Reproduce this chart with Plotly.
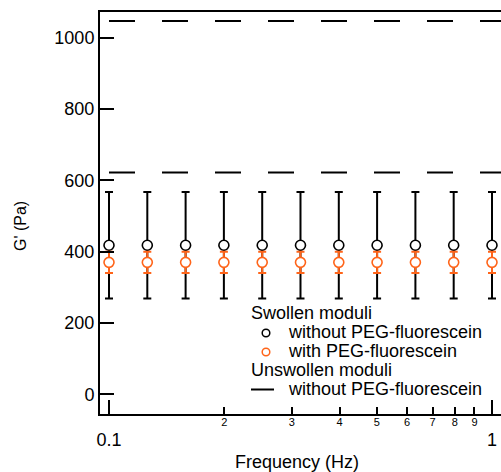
import plotly.graph_objects as go

# ---------------- data ----------------
freq = [0.1, 0.1259, 0.1585, 0.1995, 0.2512, 0.3162, 0.3981, 0.5012, 0.631, 0.7943, 1.0]
swollen_without = [418, 418, 418, 418, 418, 418, 418, 418, 418, 418, 418]
swollen_without_err = [149, 149, 149, 149, 149, 149, 149, 149, 149, 149, 149]
swollen_with = [370, 370, 370, 370, 370, 370, 370, 370, 370, 370, 370]
swollen_with_err = [30, 30, 30, 30, 30, 30, 30, 30, 30, 30, 30]
unswollen_freq = [0.1, 1.2]
unswollen_upper = [1047, 1047]
unswollen_lower = [622, 622]

y_ticks = [0, 200, 400, 600, 800, 1000]
x_major_ticks = [0.1, 1]
x_major_labels = ["0.1", "1"]
x_minor_ticks = [0.2, 0.3, 0.4, 0.5, 0.6, 0.7, 0.8, 0.9]
x_minor_labels = ["2", "3", "4", "5", "6", "7", "8", "9"]

# ---------------- layout constants ----------------
W, H = 501, 472
PLOT_L, PLOT_T, PLOT_B = 100, 12, 414          # pixel positions
L, T, B, R = PLOT_L, PLOT_T, H - PLOT_B, 0
PW, PH = W - L - R, H - T - B
FONT = "Liberation Sans, Arial, Helvetica, sans-serif"
ORANGE = "#FF6419"


def px(xp):
    return (xp - PLOT_L) / PW


def py(yp):
    return (PLOT_B - yp) / PH


fig = go.Figure()

# unswollen dashed lines
for yv in (unswollen_upper, unswollen_lower):
    fig.add_trace(go.Scatter(
        x=unswollen_freq, y=yv, mode="lines",
        line=dict(color="black", width=2, dash="26px,27px"),
        showlegend=False, hoverinfo="skip"))

# swollen without PEG
fig.add_trace(go.Scatter(
    x=freq, y=swollen_without, mode="markers",
    marker=dict(symbol="circle", size=10, color="white",
                line=dict(color="black", width=1.6)),
    error_y=dict(type="data", array=swollen_without_err, visible=True,
                 color="black", thickness=2, width=4),
    showlegend=False))

# swollen with PEG
fig.add_trace(go.Scatter(
    x=freq, y=swollen_with, mode="markers",
    marker=dict(symbol="circle", size=10, color="white",
                line=dict(color=ORANGE, width=1.6)),
    error_y=dict(type="data", array=swollen_with_err, visible=True,
                 color=ORANGE, thickness=2, width=4),
    showlegend=False))

xr = [-1 - 9 / 383, 9 / 383]

fig.update_layout(
    width=W, height=H,
    margin=dict(l=L, r=R, t=T, b=B, pad=0, autoexpand=False),
    paper_bgcolor="white", plot_bgcolor="white",
    font=dict(family=FONT, size=18, color="black"),
    showlegend=False,
    xaxis=dict(type="log", range=xr, tickmode="array",
               tickvals=x_major_ticks, ticktext=x_major_labels,
               ticks="inside", ticklen=14, tickwidth=2, tickcolor="black",
               showline=True, linewidth=2, linecolor="black", mirror=True,
               showgrid=False, zeroline=False, automargin=False,
               tickfont=dict(size=18), ticklabelstandoff=8),
    xaxis2=dict(type="log", range=xr, overlaying="x", anchor="y", side="bottom",
                tickmode="array", tickvals=x_minor_ticks, ticktext=x_minor_labels,
                ticks="inside", ticklen=7, tickwidth=2, tickcolor="black",
                showline=False, showgrid=False, zeroline=False, automargin=False,
                tickfont=dict(size=11)),
    yaxis=dict(range=[-55.2, 1072], tickmode="array", tickvals=y_ticks,
               ticks="inside", ticklen=14, tickwidth=2, tickcolor="black",
               showline=True, linewidth=2, linecolor="black", automargin=False,
               showgrid=False, zeroline=False, tickfont=dict(size=18)),
)

# dummy trace to activate xaxis2
fig.add_trace(go.Scatter(x=[0.1], y=[None], xaxis="x2", yaxis="y",
                         showlegend=False, hoverinfo="skip"))

annotations = []
# axis titles
annotations.append(dict(text="Frequency (Hz)", x=px(297), y=py(462), xref="paper", yref="paper",
                        xanchor="center", yanchor="middle", showarrow=False, font=dict(size=18)))
annotations.append(dict(text="G' (Pa)", x=px(20), y=py(226), xref="paper", yref="paper",
                        xanchor="center", yanchor="middle", textangle=-90, showarrow=False,
                        font=dict(size=16)))

# legend
rows = [313, 332, 351, 370, 388.5]
legend_text = [
    ("Swollen moduli", 249),
    ("without PEG-fluorescein", 286),
    ("with PEG-fluorescein", 286),
    ("Unswollen moduli", 249),
    ("without PEG-fluorescein", 286),
]
for (txt, xl), ry in zip(legend_text, rows):
    annotations.append(dict(text=txt, x=px(xl), y=py(ry), xref="paper", yref="paper",
                            xanchor="left", yanchor="middle", showarrow=False,
                            font=dict(size=18)))
fig.update_layout(annotations=annotations)

shapes = []
for rowy, col in ((rows[1] + 1, "black"), (rows[2] + 1, ORANGE)):
    shapes.append(dict(type="circle", xref="paper", yref="paper",
                       xsizemode="pixel", ysizemode="pixel",
                       xanchor=px(266), yanchor=py(rowy),
                       x0=-3.8, x1=3.8, y0=-3.8, y1=3.8,
                       line=dict(color=col, width=1.5), fillcolor="white"))
shapes.append(dict(type="line", xref="paper", yref="paper",
                   x0=px(251), x1=px(274), y0=py(rows[4] + 1), y1=py(rows[4] + 1),
                   line=dict(color="black", width=2)))
fig.update_layout(shapes=shapes)

fig.write_html("out.html",
               config={"displayModeBar": False},
               post_script="document.body.style.margin='0px';"
                           "document.documentElement.style.overflow='hidden';")
